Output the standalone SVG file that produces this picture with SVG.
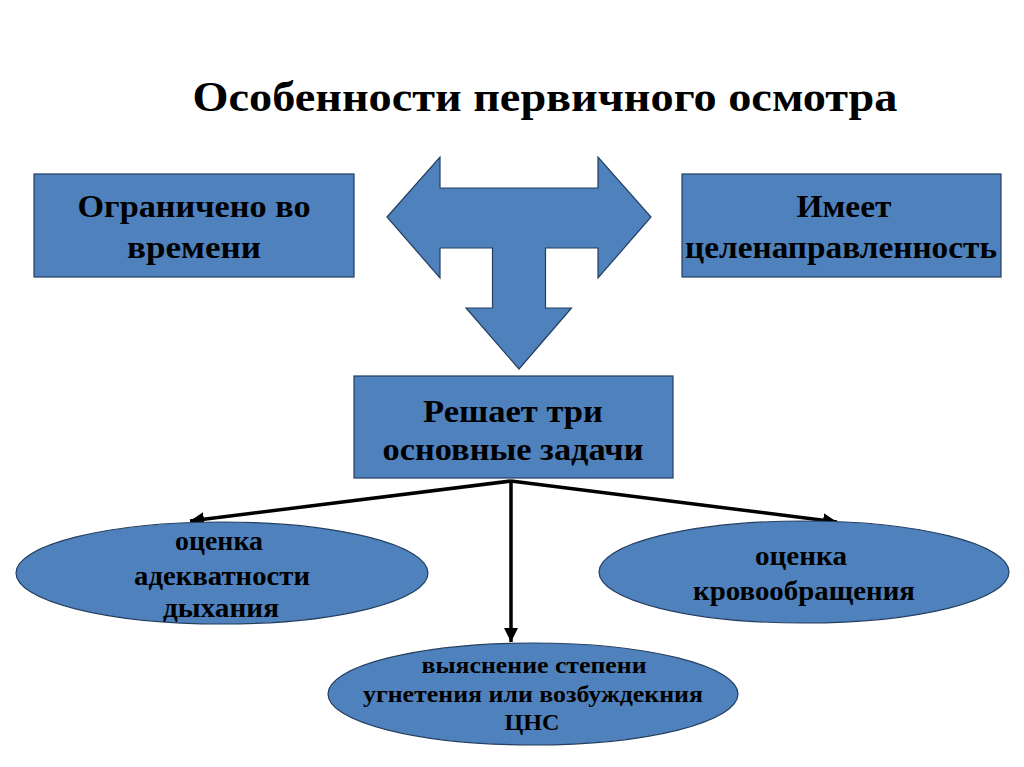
<svg xmlns="http://www.w3.org/2000/svg" width="1024" height="767" viewBox="0 0 1024 767">
<style>
.shape{fill:#4f81bd;stroke:#243f60;stroke-width:1.2}
.t{font-family:'Liberation Serif','Times New Roman','DejaVu Serif',serif;font-weight:bold;fill:#000;text-anchor:middle}
.conn{stroke:#000;stroke-width:3.5;fill:none}
</style>
<defs>
<marker id="ah" viewBox="0 0 10 10" refX="10" refY="5" markerWidth="4" markerHeight="4" orient="auto" markerUnits="strokeWidth">
<path d="M0,0 L10,5 L0,10 z" fill="#000"/>
</marker>
</defs>
<rect width="1024" height="767" fill="#fff"/>
<text id="title" class="t" x="545" y="111" font-size="43" textLength="705" lengthAdjust="spacingAndGlyphs">Особенности первичного осмотра</text>
<g id="arrow-t">
<polygon class="shape" points="387,217 440,157 440,188 598,188 598,157 651,217 598,278 598,248 545.5,248 545.5,308 571.5,308 519,369 466,308 492.5,308 492.5,248 440,248 440,278"/>
</g>
<g id="box-left">
<rect class="shape" x="34" y="174" width="320" height="103"/>
<text class="t" x="194" y="217" font-size="32" textLength="233" lengthAdjust="spacingAndGlyphs">Ограничено во</text>
<text class="t" x="194" y="258" font-size="32" textLength="134" lengthAdjust="spacingAndGlyphs">времени</text>
</g>
<g id="box-right">
<rect class="shape" x="682" y="174" width="319" height="103"/>
<text class="t" x="844" y="217" font-size="32" textLength="95" lengthAdjust="spacingAndGlyphs">Имеет</text>
<text class="t" x="841" y="258" font-size="32" textLength="312" lengthAdjust="spacingAndGlyphs">целенаправленность</text>
</g>
<g id="box-center">
<rect class="shape" x="354" y="376" width="319" height="102"/>
<text class="t" x="513" y="422" font-size="32" textLength="180" lengthAdjust="spacingAndGlyphs">Решает три</text>
<text class="t" x="513" y="460" font-size="32" textLength="261" lengthAdjust="spacingAndGlyphs">основные задачи</text>
</g>
<g id="connectors">
<line class="conn" x1="511" y1="481" x2="190" y2="521" marker-end="url(#ah)"/>
<line class="conn" x1="511" y1="481" x2="837" y2="522" marker-end="url(#ah)"/>
<line class="conn" x1="511" y1="481" x2="511" y2="642" marker-end="url(#ah)" stroke-width="2.5"/>
</g>
<g id="ellipse-left">
<ellipse class="shape" cx="222" cy="573" rx="206" ry="51"/>
<text class="t" x="219" y="550" font-size="28" textLength="88" lengthAdjust="spacingAndGlyphs">оценка</text>
<text class="t" x="222" y="585" font-size="28" textLength="176" lengthAdjust="spacingAndGlyphs">адекватности</text>
<text class="t" x="221" y="617" font-size="28" textLength="116" lengthAdjust="spacingAndGlyphs">дыхания</text>
</g>
<g id="ellipse-right">
<ellipse class="shape" cx="804" cy="572" rx="205" ry="51"/>
<text class="t" x="801" y="565" font-size="28" textLength="92" lengthAdjust="spacingAndGlyphs">оценка</text>
<text class="t" x="804" y="600" font-size="28" textLength="222" lengthAdjust="spacingAndGlyphs">кровообращения</text>
</g>
<g id="ellipse-bottom">
<ellipse class="shape" cx="533" cy="694" rx="205" ry="51"/>
<text class="t" x="534" y="673" font-size="24" textLength="225" lengthAdjust="spacingAndGlyphs">выяснение степени</text>
<text class="t" x="533" y="702" font-size="24" textLength="340" lengthAdjust="spacingAndGlyphs">угнетения или возбуждекния</text>
<text class="t" x="532" y="730" font-size="24" textLength="55" lengthAdjust="spacingAndGlyphs">ЦНС</text>
</g>
</svg>
